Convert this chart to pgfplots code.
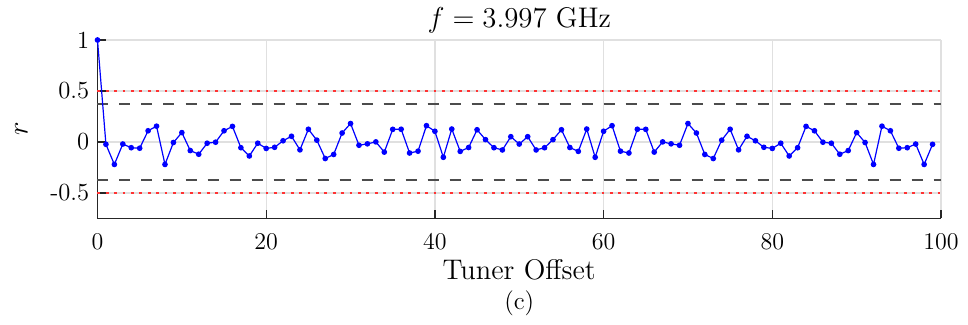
\documentclass[border=0pt]{standalone}
\usepackage{pgfplots}
\pgfplotsset{compat=1.18}
\definecolor{mblue}{rgb}{0,0,1}
\definecolor{mred}{rgb}{1,0.2,0.2}
\definecolor{mgray}{rgb}{0.3,0.3,0.3}
\definecolor{gridc}{rgb}{0.88,0.88,0.88}
\definecolor{axc}{rgb}{0.15,0.15,0.15}
\begin{document}
\begin{tikzpicture}
\begin{axis}[
  at={(0,0)}, anchor=south west,
  scale only axis, width=421.75pt, height=89.25pt,
  xmin=0, xmax=100, ymin=-0.75, ymax=1,
  axis x line*=bottom, axis y line*=left,
  axis line style={axc, line width=0.6pt},
  xtick={0,20,40,60,80,100},
  ytick={-0.5,0,0.5,1},
  yticklabels={-0.5,0,0.5,1},
  tick align=inside, major tick length=4pt,
  tick style={axc, line width=0.6pt},
  grid=major, major grid style={gridc, line width=0.6pt},
  font=\fontsize{12.3}{15}\selectfont,
  xticklabel style={anchor=base, yshift=-15.75pt, inner sep=0pt},
  yticklabel style={anchor=east, xshift=-4pt, inner sep=0pt},
  xlabel={Tuner Offset},
  xlabel style={at={(axis description cs:0.5,0)}, anchor=base, yshift=-30.75pt, inner sep=0pt, font=\fontsize{14.2}{16}\selectfont},
  ylabel={$r$},
  ylabel style={at={(axis description cs:0,0.5)}, anchor=center, yshift=38pt, inner sep=0pt, font=\fontsize{14.2}{16}\selectfont},
  every axis title shift=0pt,
  title={$f=3.997$ GHz},
  title style={at={(axis description cs:0.5,1)}, anchor=base, yshift=6pt, inner sep=0pt, font=\fontsize{14.2}{16}\selectfont},
  clip=false,
]
\addplot[mred, line width=1.4pt, dash pattern=on 1.4pt off 2.8pt] coordinates {(0,0.5) (100,0.5)};
\addplot[mred, line width=1.4pt, dash pattern=on 1.4pt off 2.8pt] coordinates {(0,-0.5) (100,-0.5)};
\addplot[mgray, line width=1pt, dash pattern=on 5.5pt off 5.5pt] coordinates {(0,0.37) (100,0.37)};
\addplot[mgray, line width=1pt, dash pattern=on 5.5pt off 5.5pt] coordinates {(0,-0.37) (100,-0.37)};
\addplot[mblue, line width=0.6pt, mark=*, mark size=1.1pt, mark options={fill=mblue, draw=mblue}] coordinates {
(0,1.0) (1,-0.023) (2,-0.22) (3,-0.02) (4,-0.056) (5,-0.061) (6,0.11) (7,0.155) (8,-0.22) (9,-0.005)
(10,0.092) (11,-0.084) (12,-0.12) (13,-0.012) (14,-0.002) (15,0.11) (16,0.153) (17,-0.056) (18,-0.137) (19,-0.012)
(20,-0.063) (21,-0.052) (22,0.012) (23,0.056) (24,-0.077) (25,0.125) (26,0.018) (27,-0.162) (28,-0.122) (29,0.088)
(30,0.181) (31,-0.032) (32,-0.018) (33,0.001) (34,-0.099) (35,0.124) (36,0.125) (37,-0.108) (38,-0.09) (39,0.16)
(40,0.105) (41,-0.15) (42,0.127) (43,-0.092) (44,-0.054) (45,0.12) (46,0.023) (47,-0.056) (48,-0.078) (49,0.052)
(50,-0.02)
(51,0.052) (52,-0.078) (53,-0.056) (54,0.023) (55,0.12) (56,-0.054) (57,-0.092) (58,0.127) (59,-0.15) (60,0.105)
(61,0.16) (62,-0.09) (63,-0.108) (64,0.125) (65,0.124) (66,-0.099) (67,0.001) (68,-0.018) (69,-0.032) (70,0.181)
(71,0.088) (72,-0.122) (73,-0.162) (74,0.018) (75,0.125) (76,-0.077) (77,0.056) (78,0.012) (79,-0.052) (80,-0.063)
(81,-0.012) (82,-0.137) (83,-0.056) (84,0.153) (85,0.11) (86,-0.002) (87,-0.012) (88,-0.12) (89,-0.084) (90,0.092)
(91,-0.005) (92,-0.22) (93,0.155) (94,0.11) (95,-0.061) (96,-0.056) (97,-0.02) (98,-0.22) (99,-0.023)
};
\node[anchor=base, inner sep=0pt, font=\fontsize{12.5}{15}\selectfont] at ([yshift=-45.75pt]axis description cs:0.5,0) {(c)};
\end{axis}
\pgfresetboundingbox
\path (-48.75pt,-53.25pt) rectangle (435.25pt,109.25pt);
\end{tikzpicture}
\end{document}
